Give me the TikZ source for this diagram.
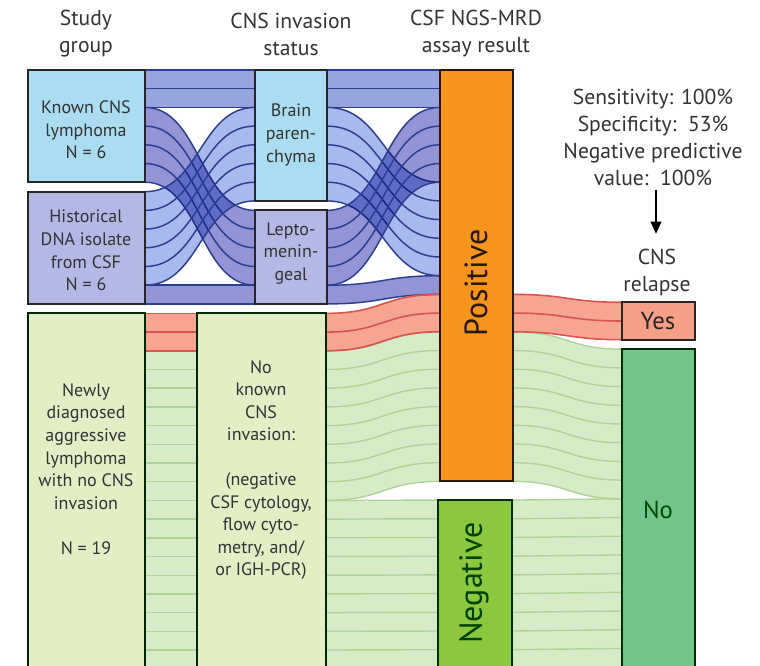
\documentclass[tikz,border=0pt]{standalone}
\usepackage{fontspec}
\setmainfont{PT Sans}
\usetikzlibrary{arrows.meta}
\definecolor{knownF}{HTML}{ABDCF2}
\definecolor{histF}{HTML}{B4B8E5}
\definecolor{newlyF}{HTML}{E3EEC4}
\definecolor{posF}{HTML}{F7941D}
\definecolor{negF}{HTML}{8DC63F}
\definecolor{yesF}{HTML}{F4A088}
\definecolor{noF}{HTML}{73C58E}
\definecolor{kbF}{HTML}{98A4DE}
\definecolor{klF}{HTML}{9294D5}
\definecolor{hbF}{HTML}{A8B9EE}
\definecolor{blueL}{HTML}{2B3F91}
\definecolor{redF}{HTML}{F6A690}
\definecolor{redL}{HTML}{D9534F}
\definecolor{greenF}{HTML}{D6ECC8}
\definecolor{greenL}{HTML}{AFD396}
\definecolor{txt}{HTML}{333333}
\def\uu{18.7}
% one band fill
\newcommand{\bandfill}[5]{%
  \pgfmathsetmacro\bandXm{(#1+#3)/2}%
  \pgfmathsetmacro\bandSb{#2+\uu}%
  \pgfmathsetmacro\bandTb{#4+\uu}%
  \fill[#5] (#1,#2) .. controls (\bandXm,#2) and (\bandXm,#4) .. (#3,#4) -- (#3,\bandTb) .. controls (\bandXm,\bandTb) and (\bandXm,\bandSb) .. (#1,\bandSb) -- cycle;
}
% one boundary line
\newcommand{\bandline}[5]{%
  \pgfmathsetmacro\bandXm{(#1+#3)/2}%
  \draw[#5] (#1,#2) .. controls (\bandXm,#2) and (\bandXm,#4) .. (#3,#4);
}
% a set of n unit flows: x1, s0, x2, t0, n, fill, line style
\newcommand{\flowset}[7]{%
  \begin{scope}[blend mode=multiply]
  \foreach \k in {1,...,#5}{%
    \pgfmathsetmacro\flS{#2+(\k-1)*\uu}%
    \pgfmathsetmacro\flT{#4+(\k-1)*\uu}%
    \bandfill{#1}{\flS}{#3}{\flT}{#6}%
  }%
  \end{scope}
  \foreach \k in {0,...,#5}{%
    \pgfmathsetmacro\flS{#2+\k*\uu}%
    \pgfmathsetmacro\flT{#4+\k*\uu}%
    \bandline{#1}{\flS}{#3}{\flT}{#7}%
  }%
}
\tikzset{
  bluestroke/.style={blueL, line width=1.1pt},
  redstroke/.style={redL, line width=1.2pt},
  greenstroke/.style={greenL, line width=1.05pt},
  boxline/.style={line width=1.6pt},
  boxtext/.style={inner sep=0pt, align=center, text=txt, font=\fontsize{13.5}{16.9}\selectfont},
  headtext/.style={inner sep=0pt, align=center, text=txt, font=\fontsize{16.2}{20.25}\selectfont},
  bigtext/.style={inner sep=0pt, font=\fontsize{24}{26}\selectfont, rotate=90},
  ynotext/.style={inner sep=0pt, font=\fontsize{18.5}{20}\selectfont},
}
\begin{document}
\begin{tikzpicture}[x=0.75pt,y=-0.75pt]
\useasboundingbox (0,0) rectangle (760,666);
\clip (0,0) rectangle (760,666);
\fill[white] (0,0) rectangle (760,666);

% ---- blue flows ----
\flowset{145}{70}{255}{70}{2}{kbF}{bluestroke}
\flowset{145}{107.4}{255}{210.4}{4}{klF}{bluestroke}
\flowset{145}{191.7}{255}{107.4}{5}{hbF}{bluestroke}
\flowset{145}{285.2}{255}{285.2}{1}{klF}{bluestroke}
\flowset{327}{70}{440}{70}{2}{kbF}{bluestroke}
\flowset{327}{107.4}{440}{182.2}{5}{hbF}{bluestroke}
\flowset{327}{210.4}{440}{107.4}{4}{klF}{bluestroke}
\flowset{327}{285.2}{440}{275.7}{1}{klF}{bluestroke}

% ---- green / red flows ----
\flowset{145}{350.8}{197}{350.8}{17}{greenF}{greenstroke}
\flowset{326}{350.8}{440}{331.8}{8}{greenF}{greenstroke}
\flowset{326}{500.4}{440}{500.1}{9}{greenF}{greenstroke}
\flowset{513}{331.8}{622}{349.2}{8}{greenF}{greenstroke}
\flowset{513}{500.1}{622}{498.8}{9}{greenF}{greenstroke}
\flowset{145}{313.4}{197}{313.4}{2}{redF}{redstroke}
\flowset{326}{313.4}{440}{294.4}{2}{redF}{redstroke}
\flowset{513}{294.4}{622}{302.3}{2}{redF}{redstroke}

% ---- boxes ----
\draw[boxline, fill=knownF, draw=black!85] (28,70) rectangle (145,182.2);
\draw[boxline, fill=histF, draw=black!85] (28,191.7) rectangle (145,303.9);
\draw[boxline, fill=newlyF, draw=black!75!green!60!black] (28,313.4) rectangle (145,690);
\draw[boxline, fill=knownF, draw=black!85] (255,70) rectangle (327,200.9);
\draw[boxline, fill=histF, draw=black!85] (255,210.4) rectangle (327,303.9);
\draw[boxline, fill=newlyF, draw=black!75!green!60!black] (197,313.4) rectangle (326,690);
\draw[boxline, fill=posF, draw=black!80!brown] (440,70) rectangle (513,481.4);
\draw[boxline, fill=negF, draw=black!70!green!60!black] (438,500.1) rectangle (512,690);
\draw[boxline, fill=yesF, draw=black!85] (622,302.3) rectangle (695,339.7);
\draw[boxline, fill=noF, draw=black!65!green!50!black] (622,349.2) rectangle (695,690);

% ---- headers ----
\node[headtext] (h1) at (86,34) {Study\\group};
\node[headtext] (h2) at (291,34) {CNS invasion\\status};
\node[headtext] (h3) at (476,34) {CSF NGS-MRD\\assay result};
\node[headtext] (stats) at (653,137) {Sensitivity: 100\%\\Specificity:\ \ 53\%\\Negative predictive\\value:\ \ 100\%};
\node[headtext] (relapse) at (657,272) {CNS\\relapse};
\draw[line width=1.1pt, -{Triangle[length=9pt,width=8pt]}, shorten <=3pt, shorten >=11pt] (stats.south -| 656,0) -- (relapse.north -| 656,0);

% ---- box texts ----
\node[boxtext] (tknown) at (86,130) {Known CNS\\lymphoma\\N = 6};
\node[boxtext] (thist) at (86,250.5) {Historical\\DNA isolate\\from CSF\\N = 6};
\node[boxtext] (tbrain) at (291,135) {Brain\\paren-\\chyma};
\node[boxtext] (tlepto) at (291,253.5) {Lepto-\\menin-\\geal};
\node[boxtext] (tnewly) at (86,469) {Newly\\diagnosed\\aggressive\\lymphoma\\with no CNS\\invasion\\[16.9pt]N = 19};
\node[boxtext] (tnok) at (261,470) {No\\known\\CNS\\invasion:\\[16.9pt](negative\\CSF cytology,\\flow cyto-\\metry, and/\\or IGH-PCR)};
\node[bigtext, text=black!80!brown] (tpos) at (476,283) {Positive};
\node[bigtext, text=black!75!green] (tneg) at (474,583) {Negative};
\node[ynotext, text=black!85] (tyes) at (658,321) {Yes};
\node[ynotext, text=black!70!green] (tno) at (658,510) {No};
\end{tikzpicture}
\end{document}
